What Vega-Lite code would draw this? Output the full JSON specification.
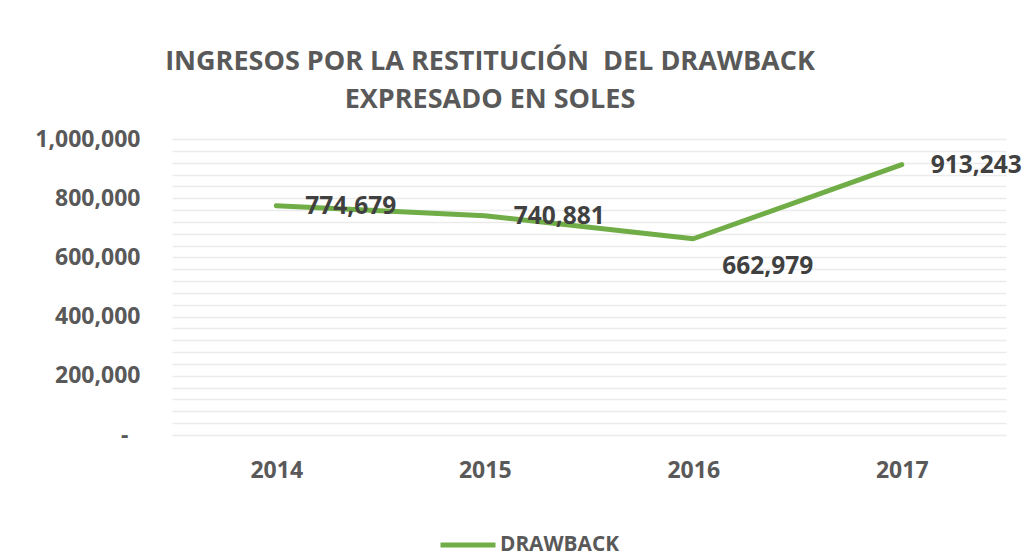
{
  "$schema": "https://vega.github.io/schema/vega-lite/v6.json",
  "autosize": "none",
  "width": 834,
  "height": 296,
  "padding": {"left": 172, "top": 139, "right": 24, "bottom": 123},
  "background": "white",
  "config": {
    "font": "Open Sans",
    "view": {"stroke": null}
  },
  "title": {
    "text": ["INGRESOS POR LA RESTITUCIÓN\u00a0 DEL DRAWBACK", "EXPRESADO EN SOLES"],
    "font": "Open Sans",
    "fontSize": 27,
    "fontWeight": "bold",
    "color": "#595959",
    "lineHeight": 38,
    "anchor": "middle",
    "frame": "group",
    "dx": -99,
    "offset": 14
  },
  "data": {
    "values": [
      {"year": "2014", "value": 774679, "serie": "DRAWBACK"},
      {"year": "2015", "value": 740881, "serie": "DRAWBACK"},
      {"year": "2016", "value": 662979, "serie": "DRAWBACK"},
      {"year": "2017", "value": 913243, "serie": "DRAWBACK"}
    ]
  },
  "encoding": {
    "x": {
      "field": "year",
      "type": "ordinal",
      "scale": {"type": "point", "padding": 0.5},
      "axis": {
        "title": null,
        "domain": false,
        "ticks": false,
        "labelAngle": 0,
        "labelFont": "Open Sans",
        "labelFontSize": 23,
        "labelFontWeight": "bold",
        "labelColor": "#595959",
        "labelPadding": 24,
        "grid": false
      }
    },
    "y": {
      "field": "value",
      "type": "quantitative",
      "scale": {"domain": [0, 1000000], "nice": false},
      "axis": {
        "title": null,
        "domain": false,
        "ticks": false,
        "values": [0, 40000, 80000, 120000, 160000, 200000, 240000, 280000, 320000, 360000, 400000, 440000, 480000, 520000, 560000, 600000, 640000, 680000, 720000, 760000, 800000, 840000, 880000, 920000, 960000, 1000000],
        "labelExpr": "datum.value % 200000 == 0 ? (datum.value == 0 ? '-' : format(datum.value, ',')) : ''",
        "labelFont": "Open Sans",
        "labelFontSize": 23,
        "labelFontWeight": "bold",
        "labelColor": "#595959",
        "labelPadding": {"condition": {"test": "datum.value == 0", "value": 44}, "value": 32},
        "labelOverlap": false,
        "grid": true,
        "gridColor": "#EBEBEB",
        "gridWidth": 1.5
      }
    }
  },
  "layer": [
    {
      "mark": {"type": "line", "strokeWidth": 5, "strokeCap": "round", "strokeJoin": "round"},
      "encoding": {
        "color": {
          "field": "serie",
          "type": "nominal",
          "scale": {"range": ["#70AD47"]},
          "legend": {
            "title": null,
            "orient": "none",
            "legendX": 266,
            "legendY": 376,
            "direction": "horizontal",
            "symbolType": "stroke",
            "symbolSize": 3025,
            "symbolStrokeWidth": 5,
            "labelFont": "Open Sans",
            "labelFontSize": 20.8,
            "labelFontWeight": "bold",
            "labelColor": "#595959",
            "labelOffset": 2
          }
        }
      }
    },
    {
      "transform": [{"filter": "datum.year != '2016'"}],
      "mark": {"type": "text", "align": "left", "baseline": "middle", "dx": 29, "dy": 1, "fontSize": 24.5, "fontWeight": "bold", "font": "Open Sans", "color": "#404040"},
      "encoding": {"text": {"field": "value", "type": "quantitative", "format": ","}}
    },
    {
      "transform": [{"filter": "datum.year == '2016'"}],
      "mark": {"type": "text", "align": "left", "baseline": "middle", "dx": 29, "dy": 28, "fontSize": 24.5, "fontWeight": "bold", "font": "Open Sans", "color": "#404040"},
      "encoding": {"text": {"field": "value", "type": "quantitative", "format": ","}}
    }
  ]
}
